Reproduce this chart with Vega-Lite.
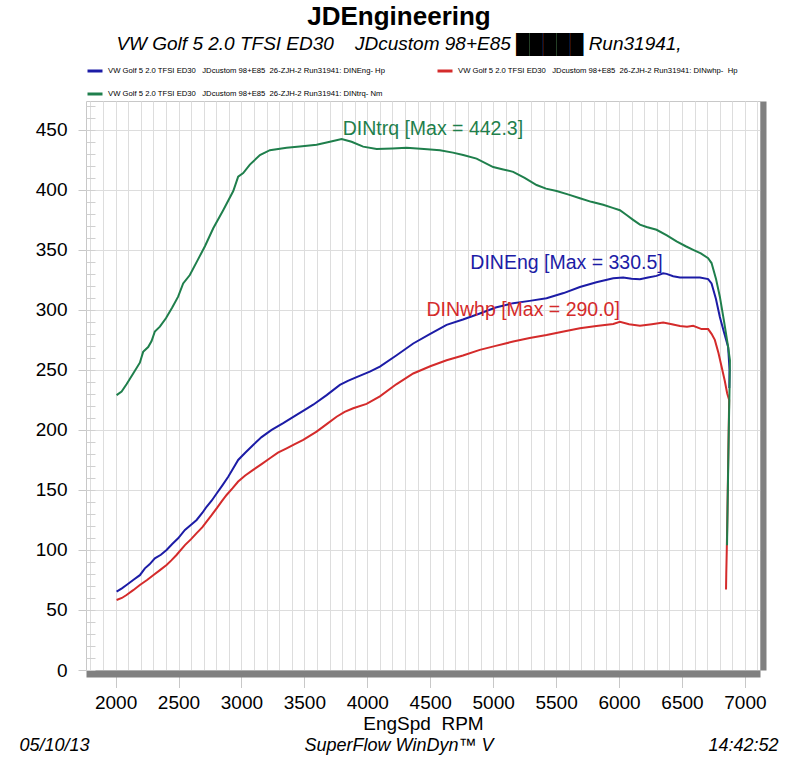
{
  "$schema": "https://vega.github.io/schema/vega-lite/v6.json",
  "background": "white",
  "padding": {"left": 18, "top": 4, "right": 5, "bottom": 0},
  "title": {
    "text": "JDEngineering",
    "subtitle": "VW Golf 5 2.0 TFSI ED30\u00a0\u00a0\u00a0\u00a0JDcustom 98+E85 █████ Run31941,",
    "font": "Liberation Sans",
    "fontSize": 26,
    "fontWeight": "bold",
    "color": "black",
    "subtitleFont": "Liberation Sans",
    "subtitleFontSize": 19,
    "subtitleFontStyle": "italic",
    "subtitleColor": "black",
    "subtitlePadding": 5,
    "anchor": "middle",
    "offset": 8
  },
  "datasets": {
    "hp": [
      {"series": "DINEng", "rpm": 2008, "v": 65.3},
      {"series": "DINEng", "rpm": 2050, "v": 68},
      {"series": "DINEng", "rpm": 2087, "v": 70.8},
      {"series": "DINEng", "rpm": 2140, "v": 75},
      {"series": "DINEng", "rpm": 2193, "v": 79},
      {"series": "DINEng", "rpm": 2233, "v": 84.7},
      {"series": "DINEng", "rpm": 2270, "v": 88},
      {"series": "DINEng", "rpm": 2312, "v": 93},
      {"series": "DINEng", "rpm": 2360, "v": 96},
      {"series": "DINEng", "rpm": 2405, "v": 100},
      {"series": "DINEng", "rpm": 2450, "v": 105},
      {"series": "DINEng", "rpm": 2497, "v": 109.7},
      {"series": "DINEng", "rpm": 2551, "v": 116.7},
      {"series": "DINEng", "rpm": 2600, "v": 121},
      {"series": "DINEng", "rpm": 2644, "v": 125},
      {"series": "DINEng", "rpm": 2690, "v": 131},
      {"series": "DINEng", "rpm": 2723, "v": 136},
      {"series": "DINEng", "rpm": 2763, "v": 141},
      {"series": "DINEng", "rpm": 2803, "v": 147},
      {"series": "DINEng", "rpm": 2850, "v": 154},
      {"series": "DINEng", "rpm": 2895, "v": 161},
      {"series": "DINEng", "rpm": 2935, "v": 168},
      {"series": "DINEng", "rpm": 2974, "v": 175},
      {"series": "DINEng", "rpm": 3030, "v": 181},
      {"series": "DINEng", "rpm": 3093, "v": 187.5},
      {"series": "DINEng", "rpm": 3160, "v": 194},
      {"series": "DINEng", "rpm": 3240, "v": 200},
      {"series": "DINEng", "rpm": 3332, "v": 205.6},
      {"series": "DINEng", "rpm": 3438, "v": 212.5},
      {"series": "DINEng", "rpm": 3500, "v": 216.5},
      {"series": "DINEng", "rpm": 3570, "v": 221},
      {"series": "DINEng", "rpm": 3677, "v": 229},
      {"series": "DINEng", "rpm": 3782, "v": 237.5},
      {"series": "DINEng", "rpm": 3850, "v": 241},
      {"series": "DINEng", "rpm": 3915, "v": 244},
      {"series": "DINEng", "rpm": 4020, "v": 248.6},
      {"series": "DINEng", "rpm": 4100, "v": 252.8},
      {"series": "DINEng", "rpm": 4230, "v": 262},
      {"series": "DINEng", "rpm": 4365, "v": 272},
      {"series": "DINEng", "rpm": 4500, "v": 280},
      {"series": "DINEng", "rpm": 4630, "v": 287.5},
      {"series": "DINEng", "rpm": 4760, "v": 292},
      {"series": "DINEng", "rpm": 4894, "v": 297},
      {"series": "DINEng", "rpm": 5020, "v": 302},
      {"series": "DINEng", "rpm": 5159, "v": 305.6},
      {"series": "DINEng", "rpm": 5290, "v": 307.5},
      {"series": "DINEng", "rpm": 5424, "v": 309.7},
      {"series": "DINEng", "rpm": 5560, "v": 314},
      {"series": "DINEng", "rpm": 5689, "v": 319},
      {"series": "DINEng", "rpm": 5820, "v": 323},
      {"series": "DINEng", "rpm": 5954, "v": 326.4},
      {"series": "DINEng", "rpm": 6033, "v": 327},
      {"series": "DINEng", "rpm": 6100, "v": 326},
      {"series": "DINEng", "rpm": 6166, "v": 325.6},
      {"series": "DINEng", "rpm": 6230, "v": 327},
      {"series": "DINEng", "rpm": 6298, "v": 328.3},
      {"series": "DINEng", "rpm": 6350, "v": 330.5},
      {"series": "DINEng", "rpm": 6378, "v": 330},
      {"series": "DINEng", "rpm": 6430, "v": 328},
      {"series": "DINEng", "rpm": 6484, "v": 327},
      {"series": "DINEng", "rpm": 6560, "v": 327},
      {"series": "DINEng", "rpm": 6643, "v": 327},
      {"series": "DINEng", "rpm": 6708, "v": 325.6},
      {"series": "DINEng", "rpm": 6735, "v": 322},
      {"series": "DINEng", "rpm": 6770, "v": 309},
      {"series": "DINEng", "rpm": 6801, "v": 294},
      {"series": "DINEng", "rpm": 6835, "v": 281},
      {"series": "DINEng", "rpm": 6867, "v": 269},
      {"series": "DINEng", "rpm": 6878, "v": 250},
      {"series": "DINEng", "rpm": 6876, "v": 235},
      {"series": "DINwhp", "rpm": 2008, "v": 58.3},
      {"series": "DINwhp", "rpm": 2050, "v": 60},
      {"series": "DINwhp", "rpm": 2087, "v": 62.5},
      {"series": "DINwhp", "rpm": 2140, "v": 66.5},
      {"series": "DINwhp", "rpm": 2193, "v": 70.8},
      {"series": "DINwhp", "rpm": 2250, "v": 75},
      {"series": "DINwhp", "rpm": 2299, "v": 79},
      {"series": "DINwhp", "rpm": 2350, "v": 83},
      {"series": "DINwhp", "rpm": 2405, "v": 87.5},
      {"series": "DINwhp", "rpm": 2445, "v": 91.5},
      {"series": "DINwhp", "rpm": 2484, "v": 95.8},
      {"series": "DINwhp", "rpm": 2551, "v": 104},
      {"series": "DINwhp", "rpm": 2600, "v": 109},
      {"series": "DINwhp", "rpm": 2644, "v": 114},
      {"series": "DINwhp", "rpm": 2690, "v": 119},
      {"series": "DINwhp", "rpm": 2723, "v": 123.6},
      {"series": "DINwhp", "rpm": 2763, "v": 129},
      {"series": "DINwhp", "rpm": 2803, "v": 134.7},
      {"series": "DINwhp", "rpm": 2840, "v": 140},
      {"series": "DINwhp", "rpm": 2882, "v": 145.8},
      {"series": "DINwhp", "rpm": 2930, "v": 151.5},
      {"series": "DINwhp", "rpm": 2974, "v": 157},
      {"series": "DINwhp", "rpm": 3030, "v": 162},
      {"series": "DINwhp", "rpm": 3093, "v": 166.7},
      {"series": "DINwhp", "rpm": 3160, "v": 171.5},
      {"series": "DINwhp", "rpm": 3226, "v": 176.4},
      {"series": "DINwhp", "rpm": 3290, "v": 181},
      {"series": "DINwhp", "rpm": 3359, "v": 184.7},
      {"series": "DINwhp", "rpm": 3420, "v": 188},
      {"series": "DINwhp", "rpm": 3491, "v": 191.7},
      {"series": "DINwhp", "rpm": 3597, "v": 198.6},
      {"series": "DINwhp", "rpm": 3680, "v": 205},
      {"series": "DINwhp", "rpm": 3756, "v": 211},
      {"series": "DINwhp", "rpm": 3820, "v": 215},
      {"series": "DINwhp", "rpm": 3888, "v": 218},
      {"series": "DINwhp", "rpm": 3994, "v": 221.7},
      {"series": "DINwhp", "rpm": 4100, "v": 228},
      {"series": "DINwhp", "rpm": 4230, "v": 238},
      {"series": "DINwhp", "rpm": 4365, "v": 247},
      {"series": "DINwhp", "rpm": 4500, "v": 253},
      {"series": "DINwhp", "rpm": 4630, "v": 258},
      {"series": "DINwhp", "rpm": 4760, "v": 262},
      {"series": "DINwhp", "rpm": 4894, "v": 266.7},
      {"series": "DINwhp", "rpm": 5020, "v": 270},
      {"series": "DINwhp", "rpm": 5159, "v": 273.6},
      {"series": "DINwhp", "rpm": 5290, "v": 276.5},
      {"series": "DINwhp", "rpm": 5424, "v": 279},
      {"series": "DINwhp", "rpm": 5560, "v": 282},
      {"series": "DINwhp", "rpm": 5689, "v": 284.7},
      {"series": "DINwhp", "rpm": 5820, "v": 286.5},
      {"series": "DINwhp", "rpm": 5954, "v": 288.3},
      {"series": "DINwhp", "rpm": 6007, "v": 290},
      {"series": "DINwhp", "rpm": 6080, "v": 288},
      {"series": "DINwhp", "rpm": 6166, "v": 286.7},
      {"series": "DINwhp", "rpm": 6260, "v": 288},
      {"series": "DINwhp", "rpm": 6351, "v": 289.4},
      {"series": "DINwhp", "rpm": 6420, "v": 288},
      {"series": "DINwhp", "rpm": 6484, "v": 286.5},
      {"series": "DINwhp", "rpm": 6540, "v": 286},
      {"series": "DINwhp", "rpm": 6589, "v": 286.7},
      {"series": "DINwhp", "rpm": 6656, "v": 284},
      {"series": "DINwhp", "rpm": 6708, "v": 284},
      {"series": "DINwhp", "rpm": 6735, "v": 280},
      {"series": "DINwhp", "rpm": 6761, "v": 275},
      {"series": "DINwhp", "rpm": 6790, "v": 264},
      {"series": "DINwhp", "rpm": 6814, "v": 253},
      {"series": "DINwhp", "rpm": 6840, "v": 241},
      {"series": "DINwhp", "rpm": 6859, "v": 230.6},
      {"series": "DINwhp", "rpm": 6875, "v": 225},
      {"series": "DINwhp", "rpm": 6872, "v": 205},
      {"series": "DINwhp", "rpm": 6866, "v": 165},
      {"series": "DINwhp", "rpm": 6861, "v": 130},
      {"series": "DINwhp", "rpm": 6856, "v": 100},
      {"series": "DINwhp", "rpm": 6852, "v": 80},
      {"series": "DINwhp", "rpm": 6850, "v": 67}
    ],
    "trq": [
      {"series": "DINtrq", "rpm": 2008, "v": 229},
      {"series": "DINtrq", "rpm": 2048, "v": 232},
      {"series": "DINtrq", "rpm": 2087, "v": 238},
      {"series": "DINtrq", "rpm": 2140, "v": 247},
      {"series": "DINtrq", "rpm": 2193, "v": 256},
      {"series": "DINtrq", "rpm": 2219, "v": 265},
      {"series": "DINtrq", "rpm": 2259, "v": 269},
      {"series": "DINtrq", "rpm": 2286, "v": 274},
      {"series": "DINtrq", "rpm": 2312, "v": 282},
      {"series": "DINtrq", "rpm": 2352, "v": 286},
      {"series": "DINtrq", "rpm": 2400, "v": 293},
      {"series": "DINtrq", "rpm": 2450, "v": 302},
      {"series": "DINtrq", "rpm": 2497, "v": 311},
      {"series": "DINtrq", "rpm": 2537, "v": 322},
      {"series": "DINtrq", "rpm": 2590, "v": 329},
      {"series": "DINtrq", "rpm": 2650, "v": 341},
      {"series": "DINtrq", "rpm": 2710, "v": 353},
      {"series": "DINtrq", "rpm": 2776, "v": 368},
      {"series": "DINtrq", "rpm": 2855, "v": 383},
      {"series": "DINtrq", "rpm": 2935, "v": 399},
      {"series": "DINtrq", "rpm": 2974, "v": 411},
      {"series": "DINtrq", "rpm": 3014, "v": 414},
      {"series": "DINtrq", "rpm": 3067, "v": 421},
      {"series": "DINtrq", "rpm": 3147, "v": 429},
      {"series": "DINtrq", "rpm": 3226, "v": 433},
      {"series": "DINtrq", "rpm": 3359, "v": 435},
      {"series": "DINtrq", "rpm": 3464, "v": 436},
      {"series": "DINtrq", "rpm": 3597, "v": 437.5},
      {"series": "DINtrq", "rpm": 3703, "v": 440},
      {"series": "DINtrq", "rpm": 3796, "v": 442.3},
      {"series": "DINtrq", "rpm": 3875, "v": 440},
      {"series": "DINtrq", "rpm": 3967, "v": 436},
      {"series": "DINtrq", "rpm": 4074, "v": 434},
      {"series": "DINtrq", "rpm": 4200, "v": 434.5},
      {"series": "DINtrq", "rpm": 4312, "v": 435},
      {"series": "DINtrq", "rpm": 4450, "v": 434},
      {"series": "DINtrq", "rpm": 4577, "v": 433},
      {"series": "DINtrq", "rpm": 4680, "v": 431},
      {"series": "DINtrq", "rpm": 4762, "v": 429},
      {"series": "DINtrq", "rpm": 4868, "v": 426},
      {"series": "DINtrq", "rpm": 5000, "v": 419},
      {"series": "DINtrq", "rpm": 5080, "v": 417},
      {"series": "DINtrq", "rpm": 5159, "v": 415},
      {"series": "DINtrq", "rpm": 5250, "v": 410},
      {"series": "DINtrq", "rpm": 5345, "v": 404},
      {"series": "DINtrq", "rpm": 5420, "v": 401},
      {"series": "DINtrq", "rpm": 5504, "v": 399},
      {"series": "DINtrq", "rpm": 5600, "v": 396},
      {"series": "DINtrq", "rpm": 5689, "v": 393},
      {"series": "DINtrq", "rpm": 5780, "v": 390},
      {"series": "DINtrq", "rpm": 5874, "v": 387.5},
      {"series": "DINtrq", "rpm": 5950, "v": 385},
      {"series": "DINtrq", "rpm": 6007, "v": 383},
      {"series": "DINtrq", "rpm": 6060, "v": 379},
      {"series": "DINtrq", "rpm": 6112, "v": 375},
      {"series": "DINtrq", "rpm": 6166, "v": 371},
      {"series": "DINtrq", "rpm": 6219, "v": 369},
      {"series": "DINtrq", "rpm": 6298, "v": 366.7},
      {"series": "DINtrq", "rpm": 6380, "v": 362},
      {"series": "DINtrq", "rpm": 6457, "v": 357},
      {"series": "DINtrq", "rpm": 6530, "v": 353},
      {"series": "DINtrq", "rpm": 6589, "v": 350},
      {"series": "DINtrq", "rpm": 6650, "v": 347},
      {"series": "DINtrq", "rpm": 6708, "v": 343},
      {"series": "DINtrq", "rpm": 6735, "v": 339},
      {"series": "DINtrq", "rpm": 6770, "v": 326},
      {"series": "DINtrq", "rpm": 6801, "v": 311},
      {"series": "DINtrq", "rpm": 6835, "v": 290},
      {"series": "DINtrq", "rpm": 6867, "v": 269},
      {"series": "DINtrq", "rpm": 6881, "v": 258},
      {"series": "DINtrq", "rpm": 6878, "v": 235},
      {"series": "DINtrq", "rpm": 6872, "v": 200},
      {"series": "DINtrq", "rpm": 6866, "v": 160},
      {"series": "DINtrq", "rpm": 6861, "v": 125},
      {"series": "DINtrq", "rpm": 6858, "v": 104}
    ],
    "labels": [
      {"series": "DINtrq", "rpm": 4521, "v": 450.5, "label": "DINtrq [Max = 442.3]"},
      {"series": "DINEng", "rpm": 5583, "v": 339, "label": "DINEng [Max = 330.5]"},
      {"series": "DINwhp", "rpm": 5238, "v": 300, "label": "DINwhp [Max = 290.0]"}
    ]
  },
  "vconcat": [
    {
      "width": 674,
      "height": 569,
      "title": {
        "text": "05/10/13\u00a0\u00a0\u00a0\u00a0\u00a0\u00a0\u00a0\u00a0\u00a0\u00a0\u00a0\u00a0\u00a0\u00a0\u00a0\u00a0\u00a0\u00a0\u00a0\u00a0\u00a0\u00a0\u00a0\u00a0\u00a0\u00a0\u00a0\u00a0\u00a0\u00a0\u00a0\u00a0\u00a0\u00a0\u00a0\u00a0\u00a0\u00a0\u00a0\u00a0\u00a0\u00a0\u00a0SuperFlow WinDyn™ V\u00a0\u00a0\u00a0\u00a0\u00a0\u00a0\u00a0\u00a0\u00a0\u00a0\u00a0\u00a0\u00a0\u00a0\u00a0\u00a0\u00a0\u00a0\u00a0\u00a0\u00a0\u00a0\u00a0\u00a0\u00a0\u00a0\u00a0\u00a0\u00a0\u00a0\u00a0\u00a0\u00a0\u00a0\u00a0\u00a0\u00a0\u00a0\u00a0\u00a0\u00a0\u00a0\u00a014:42:52",
        "orient": "bottom",
        "anchor": "middle",
        "font": "Liberation Sans",
        "fontSize": 18,
        "fontStyle": "italic",
        "fontWeight": "normal",
        "color": "black",
        "dx": -24,
        "offset": 3
      },
      "resolve": {"axis": {"y": "independent"}},
      "encoding": {
        "x": {
          "field": "rpm", "type": "quantitative",
          "scale": {"domain": [1765, 7120], "nice": false, "zero": false},
          "axis": {
            "title": "EngSpd\u00a0\u00a0RPM",
            "values": [1800,1900,2000,2100,2200,2300,2400,2500,2600,2700,2800,2900,3000,3100,3200,3300,3400,3500,3600,3700,3800,3900,4000,4100,4200,4300,4400,4500,4600,4700,4800,4900,5000,5100,5200,5300,5400,5500,5600,5700,5800,5900,6000,6100,6200,6300,6400,6500,6600,6700,6800,6900,7000,7100],
            "format": "d",
            "labelExpr": "datum.value % 500 === 0 ? datum.label : ''",
            "labelOverlap": false,
            "labelFlush": false,
            "labelFontSize": 19,
            "labelPadding": 6,
            "titleFontSize": 19,
            "titleFontWeight": "normal",
            "titlePadding": 2,
            "domain": true,
            "domainColor": "#808080",
            "domainWidth": 7,
            "offset": 3.5,
            "ticks": true,
            "tickSize": 14,
            "tickColor": {"condition": {"test": "datum.value % 500 === 0", "value": "#c8c8c8"}, "value": "transparent"},
            "grid": true,
            "gridColor": "#dddddd",
            "gridWidth": 1
          }
        }
      },
      "layer": [
        {
          "data": {"name": "hp"},
          "mark": {"type": "line", "strokeWidth": 2, "clip": false},
          "encoding": {
            "y": {
              "field": "v", "type": "quantitative",
              "scale": {"domain": [0, 474], "nice": false, "zero": false},
              "axis": {
                "orient": "left",
                "title": null,
                "values": [0, 50, 100, 150, 200, 250, 300, 350, 400, 450],
                "format": "d",
                "labelFontSize": 19,
                "labelPadding": 11,
                "tickSize": 8,
                "tickColor": "#c8c8c8",
                "domain": false,
                "grid": true,
                "gridColor": "#dddddd"
              }
            },
            "color": {
              "field": "series", "type": "nominal",
              "scale": {"domain": ["DINEng", "DINwhp", "DINtrq"], "range": ["#1c1ca6", "#d42b2b", "#1f7f4c"]},
              "legend": {
                "orient": "top",
                "direction": "horizontal",
                "columns": 2,
                "title": null,
                "symbolType": "stroke",
                "symbolStrokeWidth": 3,
                "symbolSize": 225,
                "labelFont": "Liberation Sans",
                "labelFontSize": 7.7,
                "labelColor": "black",
                "labelLimit": 500,
                "labelExpr": "'VW Golf 5 2.0 TFSI ED30\u00a0\u00a0\u00a0JDcustom 98+E85\u00a0\u00a026-ZJH-2 Run31941: ' + datum.label + (datum.label === 'DINtrq' ? '- Nm' : datum.label === 'DINwhp' ? '-\u00a0\u00a0Hp' : '- Hp')",
                "columnPadding": 45,
                "rowPadding": 8,
                "offset": 0
              }
            },
            "order": {"value": null}
          }
        },
        {
          "data": {"name": "trq"},
          "mark": {"type": "line", "strokeWidth": 2, "clip": false},
          "encoding": {
            "y": {
              "field": "v", "type": "quantitative",
              "axis": {
                "orient": "left",
                "title": null,
                "values": [0,10,20,30,40,50,60,70,80,90,100,110,120,130,140,150,160,170,180,190,200,210,220,230,240,250,260,270,280,290,300,310,320,330,340,350,360,370,380,390,400,410,420,430,440,450,460,470],
                "labels": false,
                "domain": false,
                "grid": false,
                "tickSize": -9,
                "tickColor": "#d0d0d0"
              }
            },
            "color": {
              "field": "series", "type": "nominal",
              "legend": {
                "orient": "top",
                "direction": "horizontal",
                "columns": 2,
                "title": null,
                "symbolType": "stroke",
                "symbolStrokeWidth": 3,
                "symbolSize": 225,
                "labelFont": "Liberation Sans",
                "labelFontSize": 7.7,
                "labelColor": "black",
                "labelLimit": 500,
                "labelExpr": "'VW Golf 5 2.0 TFSI ED30\u00a0\u00a0\u00a0JDcustom 98+E85\u00a0\u00a026-ZJH-2 Run31941: ' + datum.label + (datum.label === 'DINtrq' ? '- Nm' : datum.label === 'DINwhp' ? '-\u00a0\u00a0Hp' : '- Hp')",
                "columnPadding": 45,
                "rowPadding": 8,
                "offset": 0
              }
            },
            "order": {"value": null}
          }
        },
        {
          "data": {"name": "labels"},
          "mark": {"type": "text", "font": "Liberation Sans", "fontSize": 19.5, "align": "center", "baseline": "middle"},
          "encoding": {
            "y": {
              "field": "v", "type": "quantitative",
              "axis": {
                "orient": "right",
                "title": null,
                "labels": false,
                "ticks": false,
                "grid": false,
                "domain": true,
                "domainColor": "#808080",
                "domainWidth": 6,
                "offset": 3
              }
            },
            "text": {"field": "label"},
            "color": {"field": "series", "type": "nominal", "legend": null}
          }
        }
      ]
    }
  ],
  "config": {
    "font": "Liberation Sans",
    "view": {"stroke": "#c8c8c8"},
    "axis": {"labelColor": "black", "titleColor": "black", "labelFont": "Liberation Sans", "titleFont": "Liberation Sans"}
  }
}
